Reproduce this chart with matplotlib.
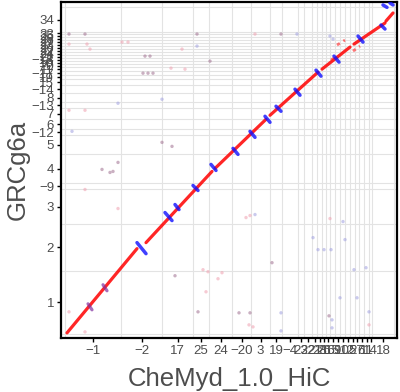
import numpy as np
import matplotlib
matplotlib.use("Agg")
import matplotlib.pyplot as plt

plt.rcParams["font.family"] = ["Liberation Sans", "DejaVu Sans"]

# ── chromosome layout (Mb-ish units) ─────────────────────────────────
x_names = ["-1", "-2", "17", "25", "24", "-20", "3", "19", "-4",
           "23", "22", "21", "28", "26", "16", "15", "9", "10", "12",
           "5", "27", "6", "11", "14", "18"]
x_sizes = [280, 205, 155, 80, 115, 95, 95, 60, 80,
           30, 40, 25, 25, 20, 20, 25, 25, 25, 25,
           25, 20, 25, 25, 15, 110]

y_names = ["1", "2", "3", "-9", "4", "5", "-12", "6", "7", "-13", "8",
           "-14", "15", "19", "-17", "11", "20", "10", "-18", "21", "24",
           "22", "26", "23", "27", "28", "25", "33", "34"]
y_sizes = [315, 235, 170, 30, 145, 95, 30, 50, 55, 30, 45,
           40, 30, 20, 20, 20, 15, 15, 15, 15, 15,
           15, 15, 15, 15, 15, 15, 10, 125]

# ── alignments: (x0, x1, y0, y1) ─────────────────────────────────────
fwd_segs = [(10, 360, 5, 425), (405, 735, 455, 810), (750, 1005, 825, 1070),
            (1025, 1265, 1090, 1305), (1285, 1425, 1320, 1430),
            (1445, 1600, 1445, 1550), (1605, 1640, 1560, 1600)]
weak_segs = [(1360, 1400, 1440, 1465), (1440, 1475, 1410, 1435),
             (1330, 1350, 1365, 1380)]
rev_segs = [(360, 405, 455, 400), (500, 535, 605, 565), (550, 570, 645, 620),
            (640, 665, 740, 715), (730, 755, 845, 815), (840, 865, 925, 895),
            (925, 950, 1010, 980), (1000, 1025, 1085, 1055),
            (1055, 1080, 1135, 1110), (1150, 1175, 1220, 1190),
            (1255, 1280, 1315, 1285), (1345, 1370, 1385, 1355),
            (1465, 1490, 1485, 1455), (1580, 1600, 1540, 1520),
            (1590, 1610, 1640, 1628), (1625, 1640, 1650, 1640)]
mix_segs = [(115, 135, 150, 120), (190, 210, 245, 215)]

# scattered short hits: x, y, kind (0 pink, 1 purple, 2 blue)
dot_x = [20, 100, 660, 950, 20, 110, 125, 285, 315, 585, 660, 400, 425,
         530, 600, 725, 390, 415, 440, 20, 100, 35, 100, 185, 225, 240,
         265, 265, 485, 485, 535, 265, 20, 100, 550, 665, 905, 925, 950,
         705, 690, 715, 765, 785, 870, 925, 920, 940, 1035, 1080, 1080,
         1240, 1265, 1295, 1330, 1325, 1390, 1400, 1375, 1460, 1320, 1335,
         1335, 1520, 1520, 1505, 1445, 1325, 1340, 1080, 1160]
dot_y = [1495, 1495, 1495, 1495, 1445, 1445, 1420, 1455, 1455, 1420, 1435,
         1385, 1385, 1325, 1320, 1360, 1300, 1300, 1300, 1115, 1115, 1010,
         720, 820, 805, 810, 855, 1150, 1170, 955, 935, 625, 110, 10, 290,
         110, 580, 590, 595, 210, 320, 310, 275, 305, 105, 105, 45, 35, 355,
         105, 15, 480, 420, 420, 420, 575, 560, 470, 180, 180, 90, 30, 70,
         110, 45, 330, 320, 1485, 1470, 1495, 1495]
dot_kind = [1, 1, 1, 0, 0, 0, 0, 0, 0, 0, 2, 1, 1,
            0, 0, 1, 1, 1, 1, 0, 0, 2, 0, 1, 1, 1,
            1, 2, 2, 1, 1, 0, 0, 0, 1, 1, 0, 0, 2,
            0, 0, 0, 0, 0, 1, 1, 0, 0, 1, 2, 2,
            2, 2, 2, 2, 0, 2, 2, 2, 2, 1, 2,
            2, 2, 0, 2, 2, 2, 2, 1, 2]


def layout(sizes):
    edges = np.concatenate([[0], np.cumsum(sizes)])
    mids = (edges[:-1] + edges[1:]) / 2
    return edges, mids


x_edges, x_mids = layout(x_sizes)
y_edges, y_mids = layout(y_sizes)

fig = plt.figure(figsize=(4.0, 3.92), dpi=100)
ax = fig.add_axes([0.1525, 0.138, 0.84, 0.857])

ax.set_xlim(-20, x_edges[-1] + 15)
ax.set_ylim(-20, y_edges[-1] + 25)

# chromosome boundaries as grid
ax.set_xticks(x_edges, minor=True)
ax.set_yticks(y_edges, minor=True)
ax.grid(which="minor", color="#E3E3E3", lw=0.8)
ax.set_xticks(x_mids)
ax.set_xticklabels([n.replace("-", "\u2212") for n in x_names])
ax.set_yticks(y_mids)
ax.set_yticklabels([n.replace("-", "\u2212") for n in y_names])
ax.tick_params(which="minor", length=0)
ax.tick_params(which="major", length=3, width=1, color="black",
               labelsize=9.5, labelcolor="#4D4D4D", pad=2)

palette = {0: "#F0A0B0", 1: "#A07090", 2: "#A0A0E0"}
ax.scatter(dot_x, dot_y, s=6, c=[palette[k] for k in dot_kind],
           alpha=0.55, lw=0, zorder=2)

for x0, x1, y0, y1 in fwd_segs:
    ax.plot([x0, x1], [y0, y1], color="#FF0000", lw=2.3, alpha=0.85,
            solid_capstyle="round", zorder=3)
for x0, x1, y0, y1 in weak_segs:
    ax.plot([x0, x1], [y0, y1], color="#FF2020", lw=2.0, alpha=0.6,
            dashes=(1.2, 1.5), zorder=3)
for x0, x1, y0, y1 in mix_segs:
    ax.plot([x0, x1], [y0, y1], color="#8030A0", lw=2.3, alpha=0.7,
            solid_capstyle="round", zorder=4)
for x0, x1, y0, y1 in rev_segs:
    ax.plot([x0, x1], [y0, y1], color="#1010FF", lw=2.5, alpha=0.8,
            solid_capstyle="round", zorder=4)

for s in ax.spines.values():
    s.set_linewidth(1.6)
    s.set_color("black")

ax.set_xlabel("CheMyd_1.0_HiC", fontsize=18.5, color="#4D4D4D", labelpad=7)
ax.set_ylabel("GRCg6a", fontsize=18.5, color="#4D4D4D", labelpad=1)

fig.savefig("out.png", dpi=100)
